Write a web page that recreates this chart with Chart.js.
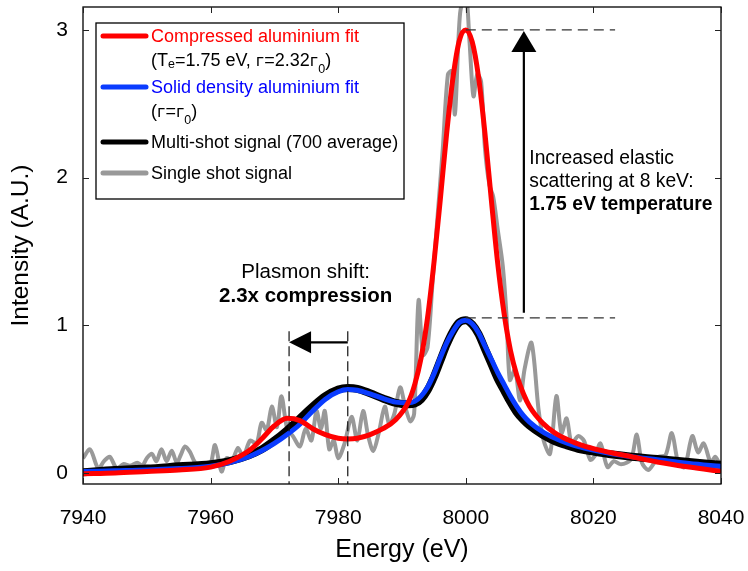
<!DOCTYPE html>
<html><head><meta charset="utf-8">
<script src="https://cdn.jsdelivr.net/npm/chart.js@4.4.1/dist/chart.umd.min.js"></script>
<style>html,body{margin:0;padding:0;background:#fff}#wrap{width:748px;height:571px}</style>
</head><body><div id="wrap"><canvas id="c" width="748" height="571"></canvas></div>
<script>
// ---------- data ----------
const fitEnergy = [7940,7945,7950,7955,7960,7963,7966,7968,7970,7972,7974,7976,7978,7980,7981.5,7983,7985,7987,7989,7991,7992,7993,7994,7995,7996,7997,7998,7999,8000,8001,8002,8003,8004,8005,8006,8007,8008,8009,8010,8012,8014,8016,8018,8020,8023,8026,8030,8035,8040];
const compressedFit = [-0.005,0.0,0.01,0.02,0.04,0.08,0.15,0.23,0.32,0.37,0.355,0.30,0.26,0.235,0.23,0.235,0.26,0.30,0.36,0.48,0.60,0.78,1.05,1.42,1.85,2.30,2.68,2.93,3.00,2.92,2.68,2.30,1.85,1.42,1.08,0.83,0.66,0.54,0.45,0.34,0.27,0.225,0.19,0.165,0.135,0.11,0.075,0.04,0.01];
const solidFit = [0.01,0.015,0.02,0.03,0.045,0.07,0.11,0.15,0.20,0.26,0.33,0.42,0.50,0.55,0.565,0.56,0.535,0.505,0.48,0.475,0.485,0.52,0.58,0.67,0.78,0.88,0.96,1.02,1.035,1.01,0.95,0.86,0.77,0.68,0.60,0.52,0.45,0.39,0.345,0.28,0.235,0.20,0.175,0.155,0.13,0.11,0.09,0.065,0.045];
const multiShot = [0.005,0.02,0.03,0.045,0.06,0.08,0.12,0.16,0.22,0.29,0.37,0.45,0.52,0.565,0.575,0.57,0.54,0.505,0.475,0.465,0.47,0.50,0.56,0.65,0.76,0.87,0.96,1.02,1.035,1.005,0.94,0.84,0.74,0.64,0.56,0.48,0.41,0.36,0.32,0.26,0.215,0.185,0.16,0.145,0.125,0.11,0.095,0.075,0.055];
const singleEnergy = [7940.0,7941.1,7942.4,7943.3,7944.2,7945.3,7946.3,7947.4,7948.5,7949.3,7950.0,7950.8,7951.5,7952.3,7953.1,7953.9,7954.7,7955.3,7956.0,7956.8,7957.6,7958.7,7959.9,7960.7,7961.7,7962.5,7963.4,7964.3,7965.1,7966.2,7967.2,7968.0,7968.8,7969.6,7970.4,7971.1,7972.0,7972.9,7974.0,7974.9,7975.8,7976.6,7977.3,7977.9,7978.6,7979.3,7980.0,7981.0,7982.1,7983.0,7983.9,7984.7,7985.5,7986.4,7987.3,7988.0,7988.8,7989.7,7990.5,7991.3,7991.9,7992.6,7993.3,7994.0,7994.8,7995.6,7996.4,7997.2,7997.8,7998.3,7999.1,8000.0,8000.6,8001.2,8001.8,8002.4,8003.0,8003.7,8004.3,8005.0,8005.8,8006.4,8006.9,8007.7,8008.5,8009.2,8010.3,8011.4,8012.2,8013.2,8014.2,8015.0,8015.8,8016.6,8017.6,8018.5,8019.5,8020.3,8021.1,8022.2,8023.2,8024.2,8025.2,8026.0,8026.8,8027.6,8028.6,8029.4,8030.2,8031.3,8032.3,8033.3,8034.3,8035.5,8036.4,8037.3,8038.4,8039.1,8040.0];
const singleShot = [0.10,0.16,0.03,0.08,0.11,0.03,0.06,0.05,0.07,0.05,0.10,0.13,0.08,0.16,0.08,0.15,0.07,0.12,0.18,0.14,0.07,0.06,0.05,0.19,0.01,0.10,0.09,0.17,0.11,0.22,0.20,0.34,0.29,0.45,0.31,0.52,0.30,0.25,0.18,0.30,0.22,0.42,0.30,0.42,0.16,0.22,0.10,0.20,0.38,0.22,0.42,0.25,0.15,0.28,0.45,0.33,0.40,0.58,0.45,0.35,0.40,1.17,0.80,0.85,1.30,1.75,2.20,2.70,2.72,2.43,3.11,3.25,2.91,2.55,2.70,2.65,2.20,1.95,1.87,1.65,1.40,1.05,0.63,0.70,0.49,0.70,0.88,0.43,0.22,0.13,0.52,0.27,0.37,0.20,0.25,0.22,0.09,0.12,0.20,0.04,0.08,0.06,0.07,0.10,0.26,0.07,0.02,0.06,0.11,0.12,0.27,0.07,0.04,0.25,0.14,0.20,0.07,0.11,0.04];
const xTickValues = [7940,7960,7980,8000,8020,8040];
const yTickValues = [0,1,2,3];
const seriesNames = ['Compressed aluminium fit','Solid density aluminium fit','Multi-shot signal (700 average)','Single shot signal'];
// annotation values (data units)
const plasmonPositions = [7972.3, 7981.5];
const plasmonLineTop = 0.96;
const plasmonArrowLevel = 0.885;
const peakLevels = [3.0, 1.05];
const peakDashEnd = 8023.4;
const peakArrowX = 8009.1;
const peakArrowBottom = 1.085;

const FONT = '"Liberation Sans", Arial, sans-serif';
const GFONT = '"DejaVu Sans", sans-serif';
const C_RED = '#ff0000', C_BLUE = '#0a3cff', C_BLACK = '#000000', C_GRAY = '#999999';

function pts(xs, ys){ return xs.map((x,i)=>({x:x, y:ys[i]})); }

const annotationPlugin = {
  id: 'annot',
  afterDatasetsDraw(chart){
    const ctx = chart.ctx, xs = chart.scales.x, ys = chart.scales.y, a = chart.chartArea;
    ctx.save();
    // frame
    ctx.strokeStyle = '#000'; ctx.lineWidth = 1.3;
    ctx.strokeRect(a.left, a.top, a.right - a.left, a.bottom - a.top);
    // inward ticks
    ctx.lineWidth = 1; ctx.strokeStyle = '#222';
    const tl = 6;
    xTickValues.forEach(v=>{
      const px = Math.round(xs.getPixelForValue(v)) + 0.5;
      ctx.beginPath(); ctx.moveTo(px, a.bottom); ctx.lineTo(px, a.bottom - tl); ctx.stroke();
      ctx.beginPath(); ctx.moveTo(px, a.top); ctx.lineTo(px, a.top + tl); ctx.stroke();
    });
    yTickValues.forEach(v=>{
      const py = Math.round(ys.getPixelForValue(v)) + 0.5;
      ctx.beginPath(); ctx.moveTo(a.left, py); ctx.lineTo(a.left + tl, py); ctx.stroke();
      ctx.beginPath(); ctx.moveTo(a.right, py); ctx.lineTo(a.right - tl, py); ctx.stroke();
    });

    // plasmon dashed verticals
    ctx.strokeStyle = '#111'; ctx.lineWidth = 1.2; ctx.setLineDash([10,5]);
    plasmonPositions.forEach(v=>{
      const px = xs.getPixelForValue(v);
      ctx.beginPath(); ctx.moveTo(px, ys.getPixelForValue(plasmonLineTop)); ctx.lineTo(px, a.bottom); ctx.stroke();
    });
    // peak dashed horizontals
    ctx.strokeStyle = '#333'; ctx.setLineDash([10,6]);
    peakLevels.forEach(v=>{
      const py = ys.getPixelForValue(v);
      ctx.beginPath(); ctx.moveTo(xs.getPixelForValue(8000), py); ctx.lineTo(xs.getPixelForValue(peakDashEnd), py); ctx.stroke();
    });
    ctx.setLineDash([]);

    // horizontal arrow (plasmon shift)
    const ay = ys.getPixelForValue(plasmonArrowLevel);
    const ax0 = xs.getPixelForValue(plasmonPositions[1]);
    const ax1 = xs.getPixelForValue(plasmonPositions[0]);
    ctx.strokeStyle = '#000'; ctx.fillStyle = '#000'; ctx.lineWidth = 2.2;
    ctx.beginPath(); ctx.moveTo(ax0, ay); ctx.lineTo(ax1 + 20, ay); ctx.stroke();
    ctx.beginPath(); ctx.moveTo(ax1, ay); ctx.lineTo(ax1 + 22, ay - 11); ctx.lineTo(ax1 + 22, ay + 11); ctx.closePath(); ctx.fill();

    // vertical arrow
    const vx = xs.getPixelForValue(peakArrowX);
    const vTop = ys.getPixelForValue(peakLevels[0]);
    const vBot = ys.getPixelForValue(peakArrowBottom);
    ctx.beginPath(); ctx.moveTo(vx, vBot); ctx.lineTo(vx, vTop + 20); ctx.stroke();
    ctx.beginPath(); ctx.moveTo(vx, vTop + 1); ctx.lineTo(vx - 12.5, vTop + 22); ctx.lineTo(vx + 12.5, vTop + 22); ctx.closePath(); ctx.fill();

    // texts
    ctx.fillStyle = '#000'; ctx.textBaseline = 'middle';
    ctx.textAlign = 'center';
    const tx = xs.getPixelForValue(7974.9);
    ctx.font = '20.5px ' + FONT;
    ctx.fillText('Plasmon shift:', tx, ys.getPixelForValue(1.356));
    ctx.font = 'bold 20.5px ' + FONT;
    ctx.fillText('2.3x compression', tx, ys.getPixelForValue(1.194));
    ctx.textAlign = 'left';
    const rx = xs.getPixelForValue(8009.95);
    ctx.font = '19.3px ' + FONT;
    ctx.fillText('Increased elastic', rx, ys.getPixelForValue(2.13));
    ctx.fillText('scattering at 8 keV:', rx, ys.getPixelForValue(1.97));
    ctx.font = 'bold 19.3px ' + FONT;
    ctx.fillText('1.75 eV temperature', rx, ys.getPixelForValue(1.82));

    // legend
    const L = {x:96, y:23, w:308, h:176};
    ctx.fillStyle = '#fff'; ctx.fillRect(L.x, L.y, L.w, L.h);
    ctx.strokeStyle = '#000'; ctx.lineWidth = 1.3; ctx.strokeRect(L.x, L.y, L.w, L.h);
    const rows = [
      {color:C_RED, tcolor:'#ff0000', y:36, w:5},
      {color:C_BLUE, tcolor:'#0000ff', y:87, w:5},
      {color:C_BLACK, tcolor:'#000', y:142, w:5},
      {color:C_GRAY, tcolor:'#000', y:173, w:5}
    ];
    ctx.lineCap = 'round';
    rows.forEach((r,i)=>{
      ctx.strokeStyle = r.color; ctx.lineWidth = r.w;
      ctx.beginPath(); ctx.moveTo(103, r.y); ctx.lineTo(146, r.y); ctx.stroke();
      ctx.fillStyle = r.tcolor; ctx.font = '18px ' + FONT; ctx.textAlign = 'left';
      ctx.fillText(seriesNames[i], 151, r.y + 1);
    });
    // sub lines with subscripts
    function richLine(parts, x, y){
      parts.forEach(p=>{
        ctx.font = p.sub ? '12.5px ' + FONT : (p.g ? '16px ' + GFONT : '18px ' + FONT);
        ctx.fillText(p.t, x, y + (p.dy||0));
        x += ctx.measureText(p.t).width;
      });
    }
    ctx.fillStyle = '#000';
    richLine([{t:'(T'},{t:'e',sub:true,dy:4},{t:'=1.75 eV, '},{t:'\u0433',g:true,dy:1},{t:'=2.32'},{t:'\u0433',g:true,dy:1},{t:'0',sub:true,dy:9},{t:')'}], 151, 61);
    richLine([{t:'('},{t:'\u0433',g:true,dy:1},{t:'='},{t:'\u0433',g:true,dy:1},{t:'0',sub:true,dy:9},{t:')'}], 151, 112);
    ctx.restore();
  }
};

new Chart(document.getElementById('c'), {
  type: 'line',
  data: {
    datasets: [
      {label: seriesNames[0], data: pts(fitEnergy, compressedFit), borderColor: C_RED, borderWidth: 5, pointRadius: 0, cubicInterpolationMode: 'monotone', order: 0, borderCapStyle:'round'},
      {label: seriesNames[1], data: pts(fitEnergy, solidFit), borderColor: C_BLUE, borderWidth: 5, pointRadius: 0, cubicInterpolationMode: 'monotone', order: 1, borderCapStyle:'round'},
      {label: seriesNames[2], data: pts(fitEnergy, multiShot), borderColor: C_BLACK, borderWidth: 8, pointRadius: 0, cubicInterpolationMode: 'monotone', order: 2, borderCapStyle:'round'},
      {label: seriesNames[3], data: pts(singleEnergy, singleShot), borderColor: C_GRAY, borderWidth: 4, pointRadius: 0, tension: 0.3, order: 3, borderJoinStyle:'round'}
    ]
  },
  options: {
    responsive: false, animation: false, devicePixelRatio: 1,
    layout: {padding: {left: 0, right: 27, top: 7, bottom: 0}},
    plugins: {legend: {display: false}, tooltip: {enabled: false}},
    scales: {
      x: {
        type: 'linear', min: 7940, max: 8040,
        grid: {display: false, drawTicks: false}, border: {display: false},
        afterBuildTicks: s => { s.ticks = xTickValues.map(v => ({value: v})); },
        ticks: {color: '#000', font: {family: FONT, size: 21}, padding: 22, maxRotation: 0, autoSkip: false, callback: v => String(v)},
        title: {display: true, text: 'Energy (eV)', color: '#000', font: {family: FONT, size: 25}, padding: {top: 0, bottom: 6}},
        afterFit: s => { s.height = 87; s.paddingLeft = 0; s.paddingRight = 0; }
      },
      y: {
        type: 'linear', min: -0.0745, max: 3.155,
        grid: {display: false, drawTicks: false}, border: {display: false},
        afterBuildTicks: s => { s.ticks = yTickValues.map(v => ({value: v})); },
        ticks: {color: '#000', font: {family: FONT, size: 21}, padding: 15, autoSkip: false, callback: v => String(v)},
        title: {display: true, text: 'Intensity (A.U.)', color: '#000', font: {family: FONT, size: 24.5}, padding: {top: 7, bottom: 0}},
        afterFit: s => { s.width = 83; s.paddingTop = 0; s.paddingBottom = 0; }
      }
    }
  },
  plugins: [annotationPlugin]
});
</script>
</body></html>
